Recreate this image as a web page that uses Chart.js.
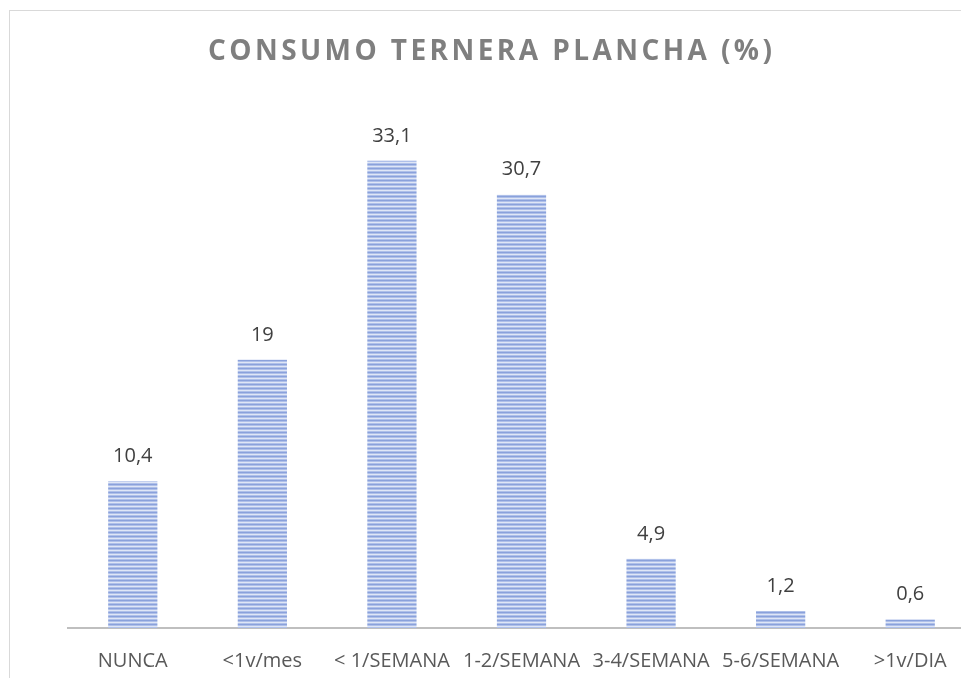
<!DOCTYPE html>
<html>
<head>
<meta charset="utf-8">
<script src="https://cdn.jsdelivr.net/npm/chart.js@4.4.1/dist/chart.umd.min.js"></script>
<style>
  html, body { margin: 0; padding: 0; background: #fff; overflow: hidden; }
  #wrap { position: relative; width: 961px; height: 678px; overflow: hidden; }
  #frame { position: absolute; left: 9px; top: 10px; width: 1000px; height: 700px; border: 1px solid #d9d9d9; box-sizing: border-box; }
  #chart { position: absolute; left: 0; top: 0; }
</style>
</head>
<body>
<div id="wrap">
  <div id="frame"></div>
  <canvas id="chart" width="990" height="700" style="width:990px;height:700px"></canvas>
</div>
<script>
const chartTitle = "CONSUMO TERNERA PLANCHA (%)";
const categories = ["NUNCA", "<1v/mes", "< 1/SEMANA", "1-2/SEMANA", "3-4/SEMANA", "5-6/SEMANA", ">1v/DIA"];
const consumo = [10.4, 19, 33.1, 30.7, 4.9, 1.2, 0.6];
const yMax = 35;

// rayas horizontales de las barras
function stripePattern() {
  const c = document.createElement("canvas");
  c.width = 4;
  c.height = 4;
  const g = c.getContext("2d");
  const rows = ["#8aa1db", "#afc0e9", "#dfe6f6", "#afc0e9"];
  rows.forEach((col, i) => {
    g.fillStyle = col;
    g.fillRect(0, i, 4, 1);
  });
  return g.createPattern(c, "repeat");
}

const titlePlugin = {
  id: "tituloExcel",
  afterDraw(chart) {
    const ctx = chart.ctx;
    ctx.save();
    ctx.font = "bold 28px 'Open Sans'";
    ctx.fillStyle = "#7f7f7f";
    ctx.textBaseline = "middle";
    ctx.textAlign = "left";
    // ajustar espaciado para ocupar ~564px
    const target = 564;
    const base = ctx.measureText(chartTitle).width;
    const sp = (target - base) / (chartTitle.length - 1);
    ctx.letterSpacing = sp + "px";
    ctx.fillText(chartTitle, 490 - target / 2, 52);
    ctx.restore();
  }
};

const labelPlugin = {
  id: "etiquetas",
  afterDatasetsDraw(chart) {
    const ctx = chart.ctx;
    const meta = chart.getDatasetMeta(0);
    ctx.save();
    ctx.font = "20px 'Open Sans'";
    ctx.fillStyle = "#404040";
    ctx.textAlign = "center";
    ctx.textBaseline = "middle";
    meta.data.forEach((bar, i) => {
      const txt = String(consumo[i]).replace(".", ",");
      ctx.fillText(txt, bar.x, bar.y - 25);
    });
    ctx.restore();
  }
};

const ctx = document.getElementById("chart").getContext("2d");
new Chart(ctx, {
  type: "bar",
  data: {
    labels: categories,
    datasets: [{
      data: consumo,
      backgroundColor: stripePattern(),
      borderWidth: 0,
      barPercentage: 0.38,
      categoryPercentage: 1
    }]
  },
  options: {
    responsive: false,
    animation: false,
    layout: { padding: { left: 68, right: 15, top: 134, bottom: 14 } },
    plugins: { legend: { display: false }, tooltip: { enabled: false }, title: { display: false } },
    scales: {
      x: {
        grid: { display: false },
        border: { display: true, color: "#bfbfbf", width: 2 },
        ticks: {
          color: "#595959",
          font: { family: "'Open Sans'", size: 20 },
          padding: 13,
          autoSkip: false,
          maxRotation: 0
        }
      },
      y: {
        display: false,
        min: 0,
        max: yMax
      }
    }
  },
  plugins: [titlePlugin, labelPlugin]
});
</script>
</body>
</html>
